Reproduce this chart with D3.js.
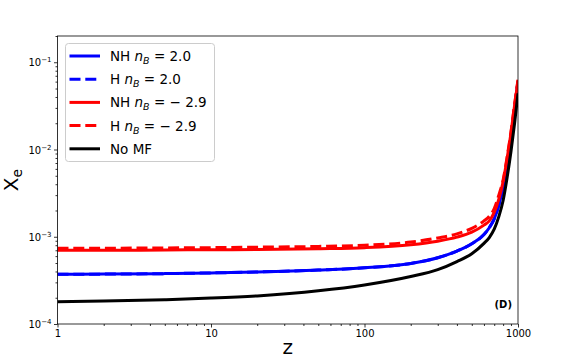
<!DOCTYPE html>
<html>
<head>
<meta charset="utf-8">
<script src="https://cdn.jsdelivr.net/npm/d3@7"></script>
<style>
  body { margin: 0; background: #fff; }
  svg { font-family: "DejaVu Sans", sans-serif; }
</style>
</head>
<body>
<div id="chart"></div>
<script>
// redshift samples
var z_vals = [1, 2, 5, 10, 20, 50, 100, 200, 300, 400, 500, 600, 650, 700, 750, 800, 850, 900, 950, 1000];

// ionization fraction per model
var nh_20  = [3.72e-4, 3.73e-4, 3.78e-4, 3.85e-4, 3.95e-4, 4.15e-4, 4.4e-4, 4.95e-4, 5.75e-4, 6.85e-4, 8.3e-4, 1.06e-3, 1.27e-3, 1.6e-3, 2.3e-3, 3.7e-3, 7.0e-3, 1.4e-2, 3.0e-2, 6.0e-2];
var h_20   = [3.72e-4, 3.73e-4, 3.78e-4, 3.85e-4, 3.95e-4, 4.15e-4, 4.4e-4, 4.95e-4, 5.75e-4, 6.85e-4, 8.3e-4, 1.06e-3, 1.27e-3, 1.6e-3, 2.3e-3, 3.7e-3, 7.0e-3, 1.4e-2, 3.0e-2, 6.0e-2];
var nh_m29 = [7.0e-4, 7.0e-4, 7.05e-4, 7.1e-4, 7.15e-4, 7.3e-4, 7.5e-4, 8.1e-4, 8.9e-4, 9.9e-4, 1.13e-3, 1.36e-3, 1.52e-3, 1.9e-3, 2.7e-3, 4.3e-3, 8.0e-3, 1.55e-2, 3.2e-2, 6.2e-2];
var h_m29  = [7.4e-4, 7.4e-4, 7.45e-4, 7.5e-4, 7.6e-4, 7.75e-4, 8.0e-4, 8.7e-4, 9.7e-4, 1.08e-3, 1.25e-3, 1.52e-3, 1.72e-3, 2.1e-3, 3.0e-3, 4.5e-3, 8.3e-3, 1.6e-2, 3.3e-2, 6.3e-2];
var no_mf  = [1.8e-4, 1.83e-4, 1.9e-4, 1.98e-4, 2.1e-4, 2.4e-4, 2.8e-4, 3.5e-4, 4.2e-4, 5.2e-4, 6.4e-4, 8.4e-4, 9.8e-4, 1.22e-3, 1.7e-3, 2.6e-3, 4.8e-3, 9.5e-3, 2.0e-2, 4.4e-2];

var x_ticks = [1, 10, 100, 1000];
var x_tick_labels = ["1", "10", "100", "1000"];
var y_ticks = [1e-4, 1e-3, 1e-2, 1e-1];
var y_tick_exps = ["\u22124", "\u22123", "\u22122", "\u22121"];

var series = [
  {name: "NH", nb: "2.0", vals: nh_20, color: "#0000ff", dash: null},
  {name: "H", nb: "2.0", vals: h_20, color: "#0000ff", dash: "11,4.8"},
  {name: "NH", nb: "\u2212 2.9", vals: nh_m29, color: "#ff0000", dash: null},
  {name: "H", nb: "\u2212 2.9", vals: h_m29, color: "#ff0000", dash: "11,4.8"},
  {name: "No MF", nb: null, vals: no_mf, color: "#000000", dash: null}
];

var svg_width = 576, svg_height = 360,
    pl = 57.5, pr = 518, pt = 36, pb = 324;

var svg = d3.select("#chart").append("svg")
  .attr("width", svg_width)
  .attr("height", svg_height);

var x = d3.scaleLog().domain([1, 1000]).range([pl, pr]);
var y = d3.scaleLog().domain([1e-4, 0.2]).range([pb, pt]);

svg.append("defs").append("clipPath").attr("id", "clip")
  .append("rect").attr("x", pl).attr("y", pt)
  .attr("width", pr - pl).attr("height", pb - pt);

// minor ticks
var x_minor = [], y_minor = [];
[1, 10, 100].forEach(function (b) {
  for (var k = 2; k < 10; k++) x_minor.push(b * k);
});
[1e-4, 1e-3, 1e-2, 1e-1].forEach(function (b) {
  for (var k = 2; k < 10; k++) if (b * k <= 0.2) y_minor.push(b * k);
});

var xAxis = svg.append("g").attr("transform", "translate(0," + pb + ")");
xAxis.call(d3.axisBottom(x).tickValues(x_minor).tickSize(2).tickFormat(""));
xAxis.append("g").call(d3.axisBottom(x).tickValues(x_ticks).tickSize(3.5)
  .tickFormat(function (d, i) { return x_tick_labels[i]; }));

var yAxis = svg.append("g").attr("transform", "translate(" + pl + ",0)");
yAxis.call(d3.axisLeft(y).tickValues(y_minor).tickSize(2).tickFormat(""));
yAxis.append("g").call(d3.axisLeft(y).tickValues(y_ticks).tickSize(3.5).tickFormat(""));

svg.selectAll(".domain").remove();
svg.selectAll(".tick line").attr("stroke", "#000").attr("stroke-width", 0.8);
xAxis.selectAll(".tick text").attr("font-size", 10).attr("fill", "#000")
  .attr("font-family", "DejaVu Sans").attr("dy", "0.71em").attr("y", 6);

// y tick labels 10^n
svg.append("g").selectAll("text.ylab").data(y_ticks).enter().append("text")
  .attr("x", pl - 6)
  .attr("y", function (d) { return y(d) + 4; })
  .attr("text-anchor", "end")
  .attr("font-size", 10)
  .each(function (d, i) {
    var t = d3.select(this);
    t.append("tspan").text("10");
    t.append("tspan").attr("font-size", 7).attr("dy", -4).text(y_tick_exps[i]);
  });

// curves
var line = d3.line()
  .x(function (d) { return x(d[0]); })
  .y(function (d) { return y(d[1]); })
  .curve(d3.curveMonotoneX);

var curves = svg.append("g").attr("clip-path", "url(#clip)");
series.forEach(function (s) {
  curves.append("path")
    .datum(z_vals.map(function (z, i) { return [z, s.vals[i]]; }))
    .attr("d", line)
    .attr("fill", "none")
    .attr("stroke", s.color)
    .attr("stroke-width", 3)
    .attr("stroke-dasharray", s.dash);
});

// frame
svg.append("rect")
  .attr("x", pl).attr("y", pt)
  .attr("width", pr - pl).attr("height", pb - pt)
  .attr("fill", "none").attr("stroke", "#000").attr("stroke-width", 0.8);

// panel tag
svg.append("text").attr("x", 512).attr("y", 308)
  .attr("text-anchor", "end").attr("font-size", 10).attr("font-weight", "bold")
  .text("(D)");

// axis labels
svg.append("text").attr("x", (pl + pr) / 2).attr("y", 354)
  .attr("text-anchor", "middle").attr("font-size", 20).text("z");

var ylab = svg.append("text")
  .attr("transform", "translate(18," + ((pt + pb) / 2) + ") rotate(-90)")
  .attr("text-anchor", "middle").attr("font-size", 20);
ylab.append("tspan").text("X");
ylab.append("tspan").attr("font-size", 14).attr("dy", 4).text("e");

// legend
var legend = svg.append("g");
legend.append("rect")
  .attr("x", 65.5).attr("y", 43.5).attr("width", 149).attr("height", 118)
  .attr("rx", 3).attr("fill", "#fff").attr("fill-opacity", 0.8)
  .attr("stroke", "#cccccc").attr("stroke-width", 1);

var row_y = function (i) { return 56 + i * 23.2; };
series.forEach(function (s, i) {
  legend.append("line")
    .attr("x1", 69.5).attr("x2", 100)
    .attr("y1", row_y(i)).attr("y2", row_y(i))
    .attr("stroke", s.color).attr("stroke-width", 3)
    .attr("stroke-dasharray", s.dash);
  var t = legend.append("text").attr("x", 110).attr("y", row_y(i) + 5)
    .attr("font-size", 13.5);
  if (s.nb === null) {
    t.text(s.name);
  } else {
    t.append("tspan").text(s.name + " ");
    t.append("tspan").attr("font-style", "italic").text("n");
    t.append("tspan").attr("font-style", "italic").attr("font-size", 9.5).attr("dy", 3).text("B");
    t.append("tspan").attr("dy", -3).text(" = " + s.nb);
  }
});
</script>
</body>
</html>
